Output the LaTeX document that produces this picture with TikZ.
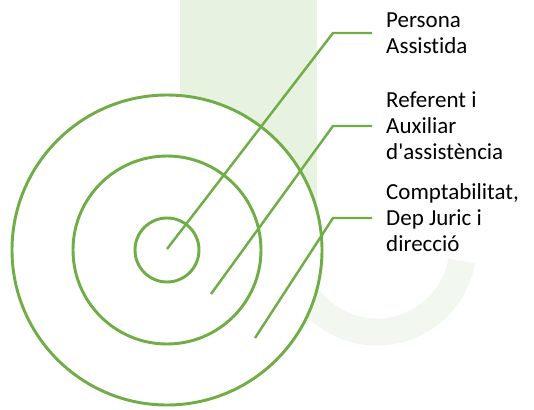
\documentclass[tikz,border=0pt]{standalone}
\usepackage{fontspec}
\setmainfont{Carlito}[Ligatures={TeXOff,CommonOff}]
\usepackage{tikz}
\usetikzlibrary{positioning,calc}
\definecolor{ringgreen}{RGB}{112,173,71}
\definecolor{wmgreen}{RGB}{231,242,224}
\definecolor{wmhook}{RGB}{242,247,239}

\begin{document}
\begin{tikzpicture}[x=0.03cm,y=0.03cm]
\tikzset{ring/.style={draw=ringgreen,line width=2.5pt},
  lead/.style={draw=ringgreen,line width=2.1pt},
  lbl/.style={anchor=west,align=left,inner xsep=0.42cm,inner ysep=0pt,
    font=\fontsize{19.6pt}{22.2pt}\selectfont}}
  \useasboundingbox (0,0) rectangle (534,409);
  % faint logo behind
  \fill[wmgreen] (180,409) rectangle (317,99);
  \draw[wmhook,line width=0.81cm] (377,163) ++(190:86) arc (190:350:86);
  \coordinate (c) at (167,159);
  \fill[white] (c) circle (155);
  \draw[ring] (c) circle (155);
  \draw[ring] (c) circle (94);
  \draw[ring] (c) circle (32);
  % labels
  \node[lbl] (persona) at (372,376) {Persona\\Assistida};
  \node[lbl] (referent) at (372,283) {Referent i\\Auxiliar\\d'assistència};
  \node[lbl] (compt) at (372,191) {Comptabilitat,\\Dep Juric i\\direcció};
  \coordinate (p1) at (167,160);
  \coordinate (p2) at (211,115);
  \coordinate (p3) at (255,71);
  \draw[lead] (p1) -- (333,376) -- (persona.west);
  \draw[lead] (p2) -- (333,283) -- (referent.west);
  \draw[lead] (p3) -- (333,191) -- (compt.west);
\end{tikzpicture}
\end{document}
